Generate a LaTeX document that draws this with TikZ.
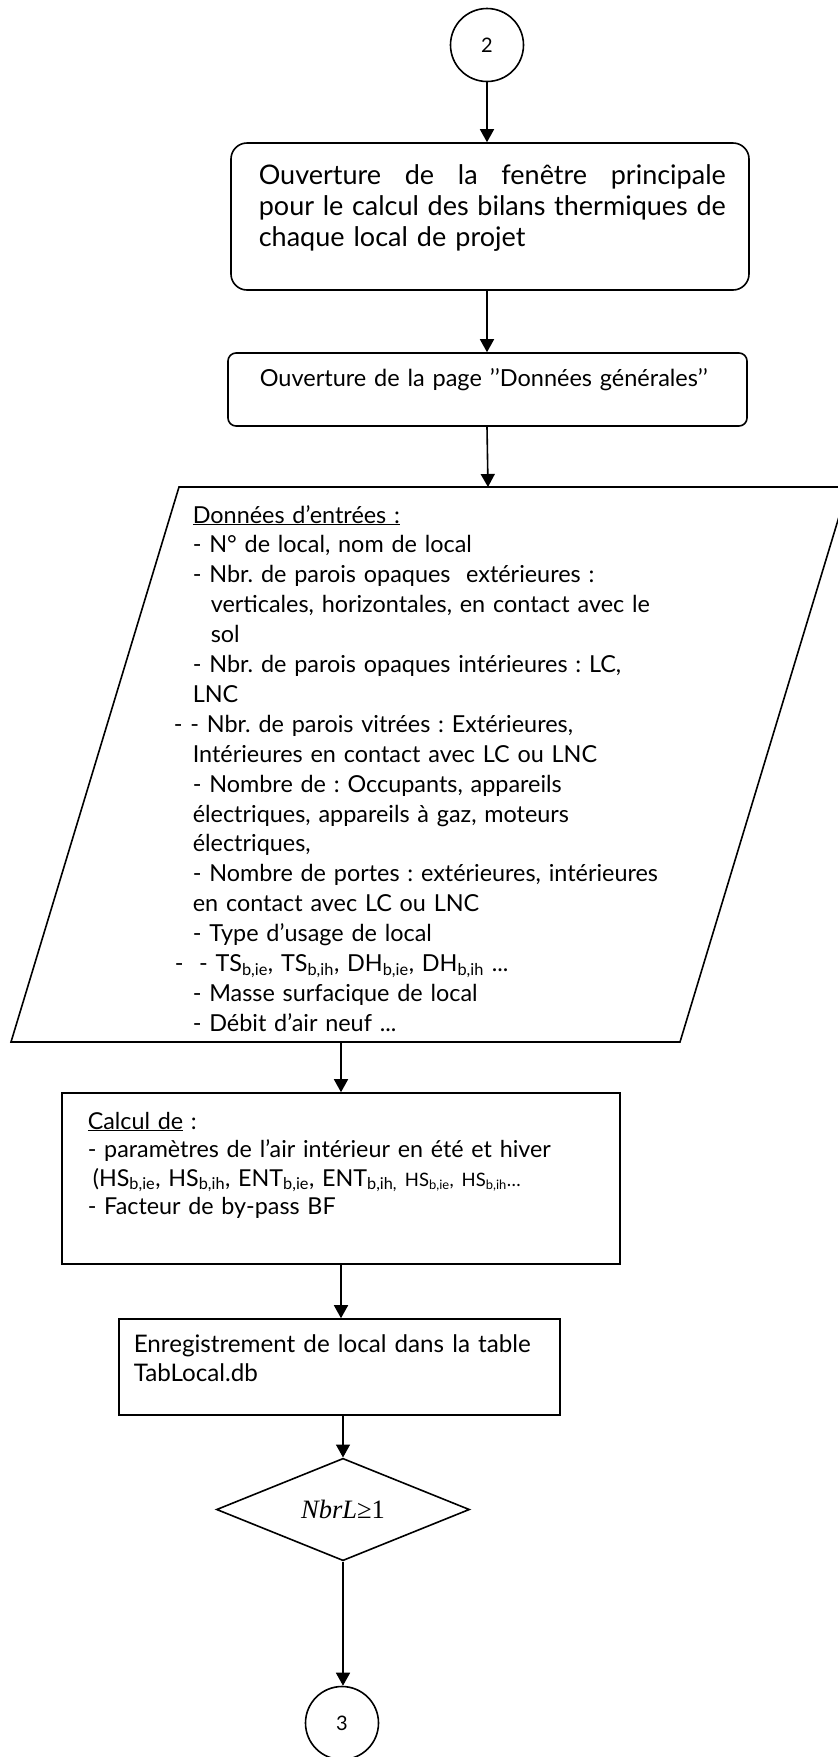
\documentclass[tikz,border=0pt]{standalone}
\usepackage{fontspec}
\setmainfont{Lato}
\newfontfamily\timesfont{Liberation Serif}
\usetikzlibrary{shapes.geometric,arrows.meta}
\setlength{\parindent}{0pt}
\frenchspacing

\tikzset{
  arr/.style={-{Triangle[width=14pt,length=13pt]}, line width=1.6pt},
  connector/.style={circle, draw, minimum size=73pt, inner sep=0pt,
    font=\fontsize{20}{24}\selectfont},
  procbox/.style={draw, rectangle, inner sep=0pt},
  txt/.style={anchor=base west, inner sep=0pt, align=left}
}

\begin{document}
\begin{tikzpicture}[x=1pt,y=-1pt,line width=1.6pt]
  \fill[white] (0,0) rectangle (838,1757);
  \useasboundingbox (0,0) rectangle (838,1757);
  \clip (0,0) rectangle (838,1757);

  % start connector
  \node[connector] (c2) at (487,45) {2};

  % main window box
  \node[procbox, rounded corners=16pt, minimum width=518pt, minimum height=147pt]
    (b1) at (490,216.5) {};
  \node[txt, text width=467pt, font=\fontsize{27}{31}\selectfont] (b1t) at (258,184)
    {\makebox[467pt][l]{Ouverture\hfill de\hfill la\hfill fenêtre\hfill principale}\\
     \makebox[467pt][l]{pour\hfill le\hfill calcul\hfill des\hfill bilans\hfill thermiques\hfill de}\\
     chaque local de projet};

  % general data page
  \node[procbox, rounded corners=8pt, minimum width=519pt, minimum height=73pt]
    (b2) at (487.5,389.5) {};
  \node[txt, text width=480pt, font=\fontsize{23.5}{28}\selectfont] (b2t) at (259,386)
    {Ouverture de la page ’’Données générales’’};

  % input data (parallelogram)
  \coordinate (pTL) at (179,487);
  \coordinate (pTR) at (848,487);
  \coordinate (pBR) at (680,1042);
  \coordinate (pBL) at (11,1042);
  \draw (pTL) -- (pTR) -- (pBR) -- (pBL) -- cycle;
  \coordinate (pin) at (488,487);
  \coordinate (pout) at (341,1042);
  \node[txt, text width=620pt, font=\fontsize{23.4}{29.9}\selectfont] (dt) at (173,523)
    {\hspace*{19pt}\underline{Données d’entrées :}\\
     \hspace*{19pt}- N° de local, nom de local\\
     \hspace*{19pt}- Nbr. de parois opaques \ extérieures :\\
     \hspace*{37pt}verticales, horizontales, en contact avec le\\
     \hspace*{37pt}sol\\
     \hspace*{19pt}- Nbr. de parois opaques intérieures : LC,\\
     \hspace*{19pt}LNC\\
     - - Nbr. de parois vitrées : Extérieures,\\
     \hspace*{19pt}Intérieures en contact avec LC ou LNC\\
     \hspace*{19pt}- Nombre de : Occupants, appareils\\
     \hspace*{19pt}électriques, appareils à gaz, moteurs\\
     \hspace*{19pt}électriques,\\
     \hspace*{19pt}- Nombre de portes : extérieures, intérieures\\
     \hspace*{19pt}en contact avec LC ou LNC\\
     \hspace*{19pt}- Type d’usage de local\\
     \hspace*{1pt}- \ - TS\textsubscript{b,ie}, TS\textsubscript{b,ih}, DH\textsubscript{b,ie}, DH\textsubscript{b,ih} ...\\
     \hspace*{19pt}- Masse surfacique de local\\
     \hspace*{19pt}- Débit d’air neuf ...};

  % calculation box
  \node[procbox, minimum width=558pt, minimum height=171pt] (b3) at (341,1178.5) {};
  \node[txt, text width=525pt, font=\fontsize{23.3}{28.5}\selectfont] (b3t) at (87,1129)
    {\underline{Calcul de} :\\
     - paramètres de l’air intérieur en été et hiver\\
     \hspace*{5pt}(HS\textsubscript{b,ie}, HS\textsubscript{b,ih}, ENT\textsubscript{b,ie}, ENT\textsubscript{b,ih,}
     {\fontsize{18.5}{20}\selectfont HS\textsubscript{b,ie}, HS\textsubscript{b,ih}…}\\
     - Facteur de by-pass BF};

  % save box
  \node[procbox, minimum width=441pt, minimum height=96pt] (b4) at (339.5,1367) {};
  \node[txt, text width=420pt, font=\fontsize{24.2}{29}\selectfont] (b4t) at (133,1352)
    {Enregistrement de local dans la table\\ TabLocal.db};

  % decision
  \node[diamond, draw, minimum width=253pt, minimum height=95pt, inner sep=0pt]
    (d1) at (343,1509.5) {\timesfont\fontsize{26.5}{32}\selectfont\textit{NbrL}≥1};

  % end connector
  \node[connector] (c3) at (342,1723) {3};

  % flow
  \draw[arr] (c2.south) -- (c2.south |- b1.north);
  \draw[arr] (c2 |- b1.south) -- (c2 |- b2.north);
  \draw[arr] (c2 |- b2.south) -- (pin);
  \draw[arr] (pout) -- (pout |- b3.north);
  \draw[arr] (b3.south) -- (b3.south |- b4.north);
  \draw[arr] (b4.south -| d1.north) -- (d1.north);
  \draw[arr] (d1.south) -- (d1.south |- c3.north);
\end{tikzpicture}
\end{document}
